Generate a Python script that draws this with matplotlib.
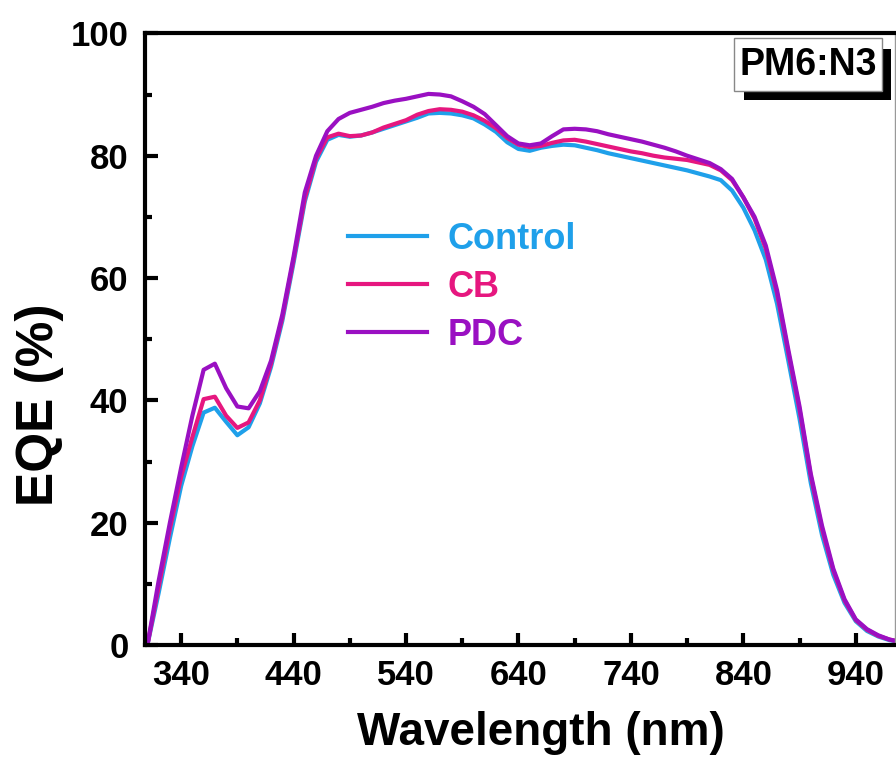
import matplotlib
matplotlib.use("Agg")
import matplotlib.pyplot as plt
from matplotlib.patches import Rectangle
from matplotlib.ticker import MultipleLocator

plt.rcParams['font.family'] = ['Liberation Sans', 'DejaVu Sans']
plt.rcParams['font.weight'] = 'bold'

wavelength = list(range(310, 990, 10))

control = [0, 8.5, 17.5, 26, 32.5, 38, 38.8, 36.5, 34.3, 35.6,
           39.5, 45.5, 53, 62.5, 72.5, 79, 82.6, 83.4, 83.1, 83.3,
           83.8, 84.4, 85.0, 85.6, 86.2, 86.9, 87.0, 86.9, 86.6, 86.1,
           85.1, 83.9, 82.2, 81.1, 80.8, 81.3, 81.6, 81.8, 81.7, 81.3,
           80.9, 80.4, 80.0, 79.6, 79.2, 78.8, 78.4, 78.0, 77.6, 77.1,
           76.6, 76.0, 74.3, 71.5, 67.8, 63, 55.8, 46.5, 37, 26.5,
           18, 11.5, 6.9, 3.9, 2.3, 1.4, 0.8, 0.5]

cb = [0, 9.5, 19, 27.5, 34, 40.2, 40.6, 37.5, 35.5, 36.4,
      40, 46, 53.5, 63, 73, 79.5, 83, 83.6, 83.2, 83.3,
      83.8, 84.6, 85.2, 85.8, 86.7, 87.3, 87.6, 87.5, 87.2, 86.6,
      85.7, 84.5, 82.9, 81.8, 81.4, 81.6, 82.1, 82.5, 82.6, 82.3,
      81.9, 81.5, 81.1, 80.7, 80.4, 80.0, 79.7, 79.5, 79.3, 78.9,
      78.5, 77.6, 76.0, 73.2, 69.7, 64.8, 57.5, 47.8, 38.5, 27.6,
      19.0, 12.2, 7.3, 4.1, 2.5, 1.5, 0.9, 0.5]

pdc = [0, 10.5, 20, 29, 37.5, 45, 46, 42, 39, 38.7,
       41.5, 46.5, 54, 63.5, 74, 80, 84, 86, 87, 87.5,
       88, 88.6, 89, 89.3, 89.7, 90.1, 90.0, 89.7, 88.9, 88.0,
       86.8, 85, 83.2, 82, 81.7, 82.0, 83.2, 84.3, 84.4, 84.3,
       84.0, 83.5, 83.1, 82.7, 82.3, 81.8, 81.3, 80.7, 80.0, 79.4,
       78.8, 77.8, 76.2, 73.2, 70, 65.3, 58, 48.3, 39, 28,
       19.5, 12.5, 7.5, 4.2, 2.6, 1.6, 0.9, 0.5]

labels = ["Control", "CB", "PDC"]
colors = ["#1fa0ea", "#e6177f", "#9a10c2"]

fig = plt.figure(figsize=(8.96, 7.58), dpi=100)
ax = fig.add_axes([0.162, 0.149, 0.837, 0.807])

for y, lab, c in zip([control, cb, pdc], labels, colors):
    ax.plot(wavelength, y, color=c, lw=3, label=lab)

ax.set_xlim(308, 975)
ax.set_ylim(0, 100)
ax.set_xticks([340, 440, 540, 640, 740, 840, 940])
ax.set_xticks([390, 490, 590, 690, 790, 890], minor=True)
ax.yaxis.set_major_locator(MultipleLocator(20))
ax.yaxis.set_minor_locator(MultipleLocator(10))

ax.tick_params(which='major', direction='in', length=9, width=3, labelsize=25, pad=10)
ax.tick_params(which='minor', direction='in', length=5, width=3)
ax.tick_params(axis='y', pad=12)
for s in ['left', 'bottom', 'top']:
    ax.spines[s].set_linewidth(3)
ax.spines['right'].set_linewidth(1)
ax.spines['right'].set_color('#999999')

ax.set_xlabel("Wavelength (nm)", fontsize=33, fontweight='bold')
ax.xaxis.set_label_coords(0.527, -0.107)
ax.set_ylabel("EQE (%)", fontsize=37, fontweight='bold')
ax.yaxis.set_label_coords(-0.108, 0.393)

leg = ax.legend(loc='upper left', bbox_to_anchor=(0.227, 0.745), frameon=False,
                fontsize=26, handlelength=2.2, handletextpad=0.55,
                labelspacing=0.36, labelcolor='linecolor')
for h in leg.get_lines():
    h.set_linewidth(3)

# PM6:N3 box with shadow
ax.add_patch(Rectangle((0.799, 0.891), 0.196, 0.084, transform=ax.transAxes,
                       facecolor='black', edgecolor='none', zorder=5, clip_on=False))
ax.add_patch(Rectangle((0.785, 0.905), 0.198, 0.087, transform=ax.transAxes,
                       facecolor='white', edgecolor='#888888', lw=1, zorder=6, clip_on=False))
ax.text(0.884, 0.948, "PM6:N3", transform=ax.transAxes, ha='center', va='center',
        fontsize=27, fontweight='bold', zorder=7)

fig.savefig("out.png", dpi=100)
